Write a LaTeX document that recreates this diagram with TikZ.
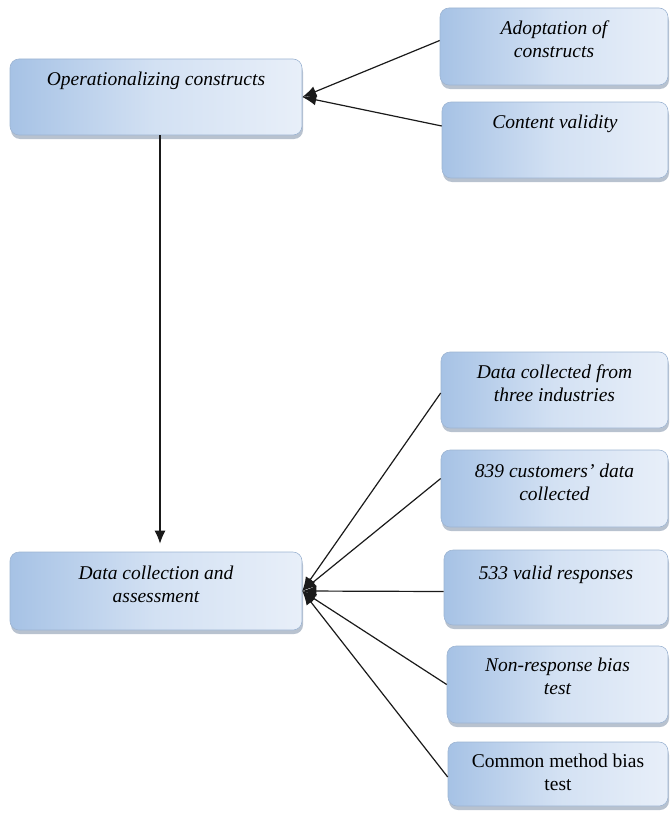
\documentclass[tikz,border=0pt]{standalone}
\usepackage{fontspec}
\setmainfont{Liberation Serif}
\usetikzlibrary{arrows.meta,shadows}
\definecolor{boxL}{HTML}{A6C2E5}
\definecolor{boxM}{HTML}{D3E1F3}
\definecolor{boxR}{HTML}{E8EFF9}
\definecolor{boxEdge}{HTML}{9DB4D2}
\definecolor{lineC}{HTML}{1A1A1A}
\tikzset{
  box/.style={draw=boxEdge, line width=0.6pt, rounded corners=9pt,
    left color=boxL, right color=boxR, middle color=boxM,
    drop shadow={shadow xshift=1pt, shadow yshift=-4pt, fill=boxEdge!80!black, opacity=0.55},
    inner sep=0pt},
  txt/.style={font=\fontsize{19.5}{23}\selectfont\itshape, align=center, anchor=north, inner sep=0pt, text=black},
  txtup/.style={font=\fontsize{19.5}{23}\selectfont, align=center, anchor=north, inner sep=0pt, text=black},
  conn/.style={draw=lineC, line width=1.2pt, -{Latex[length=14pt,width=11pt]}},
  vconn/.style={draw=lineC, line width=1.2pt, -{Latex[length=13pt,width=11pt]}}
}
\begin{document}
\begin{tikzpicture}[x=1pt,y=-1pt]
\useasboundingbox (0,0) rectangle (670,816);
% boxes
\node[box, minimum width=292pt, minimum height=76pt] (op) at (156,97) {};
\node[box, minimum width=228pt, minimum height=77pt] (ad) at (554,46.5) {};
\node[box, minimum width=226pt, minimum height=76pt] (cv) at (555,140) {};
\node[box, minimum width=292pt, minimum height=78pt] (dc) at (156,591) {};
\node[box, minimum width=227pt, minimum height=76pt] (b1) at (554.5,390) {};
\node[box, minimum width=227pt, minimum height=77pt] (b2) at (554.5,488.5) {};
\node[box, minimum width=224pt, minimum height=75pt] (b3) at (556,587.5) {};
\node[box, minimum width=221pt, minimum height=77pt] (b4) at (557.5,684.5) {};
\node[box, minimum width=220pt, minimum height=64pt] (b5) at (558,774) {};
% texts
\node[txt] (op-t) at ([yshift=-13pt]op.north) {Operationalizing constructs};
\node[txt] (ad-t) at ([yshift=-13pt]ad.north) {Adoptation of\\constructs};
\node[txt] (cv-t) at ([yshift=-13pt]cv.north) {Content validity};
\node[txt] (dc-t) at ([yshift=-14pt]dc.north) {Data collection and\\assessment};
\node[txt] (b1-t) at ([yshift=-13pt]b1.north) {Data collected from\\three industries};
\node[txt] (b2-t) at ([yshift=-14pt]b2.north) {839 customers' data\\collected};
\node[txt] (b3-t) at ([yshift=-16pt]b3.north) {533 valid responses};
\node[txt] (b4-t) at ([yshift=-12pt]b4.north) {Non-response bias\\test};
\node[txtup] (b5-t) at ([yshift=-12pt]b5.north) {Common method bias\\test};
% connectors
\draw[conn] ([yshift=6pt]ad.west) -- (op.east);
\draw[conn] ([yshift=14pt]cv.west) -- (op.east);
\draw[vconn, shorten >=8pt] ([xshift=4pt]op.south) -- ([xshift=4pt]dc.north);
\draw[conn] ([yshift=-3pt]b1.west) -- (dc.east);
\draw[conn] ([yshift=10pt]b2.west) -- (dc.east);
\draw[conn] ([yshift=-4pt]b3.west) -- (dc.east);
\draw[conn] (b4.west) -- (dc.east);
\draw[conn] ([yshift=-3pt]b5.west) -- (dc.east);
\end{tikzpicture}
\end{document}
